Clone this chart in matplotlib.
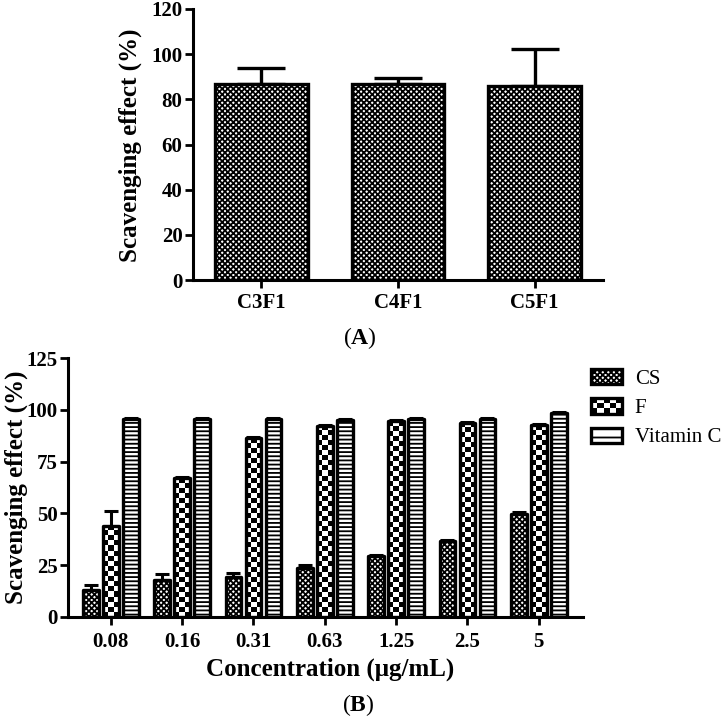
import matplotlib
matplotlib.use('Agg')
import matplotlib.pyplot as plt
import numpy as np
from matplotlib.patches import Patch, Rectangle
from matplotlib.legend_handler import HandlerBase

# panel A data
samples = ['C3F1', 'C4F1', 'C5F1']
sample_vals = [87.0, 87.0, 86.0]
sample_err = [6.7, 2.6, 16.2]

# panel B data
conc_labels = ['0.08', '0.16', '0.31', '0.63', '1.25', '2.5', '5']
cs_vals = [13.0, 18.0, 19.5, 23.8, 29.3, 36.8, 49.8]
cs_err = [2.6, 2.6, 1.6, 1.4, 0.7, 0.5, 0.8]
f_vals = [44.0, 67.0, 86.3, 92.3, 94.5, 93.8, 92.5]
f_err = [7.0, 0.6, 0.6, 0.5, 0.5, 0.5, 0.5]
vitc_vals = [95.5, 95.5, 95.5, 95.0, 95.5, 95.5, 98.3]
vitc_err = [0.4, 0.4, 0.4, 0.4, 0.4, 0.4, 0.4]
series_names = ['CS', 'F', 'Vitamin C']

plt.rcParams['font.family'] = ['Liberation Serif', 'DejaVu Serif']
plt.rcParams['mathtext.fontset'] = 'custom'
plt.rcParams['mathtext.rm'] = 'Liberation Serif'
plt.rcParams['mathtext.bf'] = 'Liberation Serif:bold'
plt.rcParams['hatch.color'] = 'black'
plt.rcParams['hatch.linewidth'] = 1.3

fig = plt.figure(figsize=(7.25, 7.24), dpi=100)
W, H = 725.0, 724.0

def axes_px(l, t, r, b):
    return fig.add_axes([l / W, 1 - b / H, (r - l) / W, (b - t) / H])

def style_axes(ax):
    for s in ['top', 'right']:
        ax.spines[s].set_visible(False)
    for s in ['left', 'bottom']:
        ax.spines[s].set_linewidth(2.2)
    ax.tick_params(width=2.0, length=5.5, direction='out')
    for lab in ax.get_xticklabels() + ax.get_yticklabels():
        lab.set_fontweight('bold')
        lab.set_fontsize(15)

# ---------------- panel A ----------------
axA = axes_px(193, 9, 603, 280)
xA = np.arange(len(samples))
axA.bar(xA, sample_vals, width=0.68, color='white', edgecolor='black',
        linewidth=2.4, hatch='xxxxxx', zorder=2)
axA.errorbar(xA, sample_vals, yerr=[np.zeros(3), sample_err], fmt='none',
             ecolor='black', elinewidth=2.4, capsize=17, capthick=2.4, zorder=1)
axA.set_xlim(-0.5, 2.5)
axA.set_ylim(0, 120)
axA.set_yticks(range(0, 121, 20))
axA.set_xticks(xA)
axA.set_xticklabels(samples)
style_axes(axA)
axA.tick_params(axis='x', pad=4)
axA.tick_params(axis='y', pad=2)
fig.text(130 / W, 1 - 145 / H, 'Scavenging effect (%)', rotation=90,
         ha='center', va='center', fontsize=18, fontweight='bold')
fig.text(360 / W, 1 - 338 / H, r'($\mathbf{A}$)', ha='center', va='center', fontsize=17)

# ---------------- panel B ----------------
axB = axes_px(68, 358, 583, 617)
xB = np.arange(len(conc_labels))
bw = 0.22
off = 0.28
axB.set_xlim(-0.6, 6.62)
axB.set_ylim(0, 125)

barkw = dict(width=bw, edgecolor='black', linewidth=2.4, joinstyle='round')
axB.bar(xB - off, cs_vals, color='white', hatch='xxxxxx', zorder=2, **barkw)
f_bars = axB.bar(xB, f_vals, color='none', zorder=3, **barkw)
axB.bar(xB + off, vitc_vals, color='white', hatch='----', zorder=2, **barkw)

# checkerboard fill for F bars
px_x = axB.transData.transform((1, 0))[0] - axB.transData.transform((0, 0))[0]
px_y = axB.transData.transform((0, 1))[1] - axB.transData.transform((0, 0))[1]
sq = 5.0
for rect, v in zip(f_bars.patches, f_vals):
    nx = max(2, int(round(bw * px_x / sq)))
    ny = max(1, int(round(v * px_y / sq)))
    board = (np.add.outer(np.arange(ny), np.arange(nx)) % 2).astype(float)
    x0 = rect.get_x()
    im = axB.imshow(board, cmap='gray', vmin=0, vmax=1, interpolation='nearest',
                    extent=[x0, x0 + bw, 0, v], aspect='auto', origin='lower', zorder=2.5)
    im.set_clip_path(rect)

for xs, vals, errs in [(xB - off, cs_vals, cs_err), (xB, f_vals, f_err), (xB + off, vitc_vals, vitc_err)]:
    axB.errorbar(xs, vals, yerr=[np.zeros(len(vals)), errs], fmt='none', ecolor='black',
                 elinewidth=2.2, capsize=5, capthick=2.2, zorder=1)

axB.set_xlim(-0.6, 6.62)
axB.set_ylim(0, 125)
axB.set_yticks(range(0, 126, 25))
axB.set_xticks(xB)
axB.set_xticklabels(conc_labels)
style_axes(axB)
axB.tick_params(axis='x', pad=5)
axB.tick_params(axis='y', pad=2)
fig.text(16 / W, 1 - 487 / H, 'Scavenging effect (%)', rotation=90,
         ha='center', va='center', fontsize=18, fontweight='bold')
fig.text(330 / W, 1 - 669 / H, 'Concentration (\u03bcg/mL)', ha='center', va='center',
         fontsize=18, fontweight='bold')
fig.text(358 / W, 1 - 705 / H, r'($\mathbf{B}$)', ha='center', va='center', fontsize=17)


class CheckerHandler(HandlerBase):
    def create_artists(self, legend, orig_handle, xdescent, ydescent, width, height, fontsize, trans):
        arts = []
        nx, ny = 5, 3
        w = width / nx
        h = height / ny
        for i in range(nx):
            for j in range(ny):
                if (i + j) % 2 == 0:
                    arts.append(Rectangle((-xdescent + i * w, -ydescent + j * h), w, h,
                                          facecolor='black', linewidth=0, transform=trans))
        arts.append(Rectangle((-xdescent, -ydescent), width, height, facecolor='none',
                              edgecolor='black', linewidth=2.4, transform=trans))
        return arts


h_cs = Patch(facecolor='white', edgecolor='black', linewidth=2.4, hatch='xxxxxx')
h_f = Patch(facecolor='white', edgecolor='black', linewidth=2.4)
h_vc = Patch(facecolor='white', edgecolor='black', linewidth=2.4, hatch='--')
fig.legend([h_cs, h_f, h_vc], series_names, handler_map={h_f: CheckerHandler()},
           loc='upper left', bbox_to_anchor=(591 / W, 1 - 369 / H), frameon=False,
           fontsize=15, handlelength=1.5, handleheight=0.75, labelspacing=0.45,
           handletextpad=0.6, borderpad=0, borderaxespad=0)

fig.savefig('out.png', dpi=100)
